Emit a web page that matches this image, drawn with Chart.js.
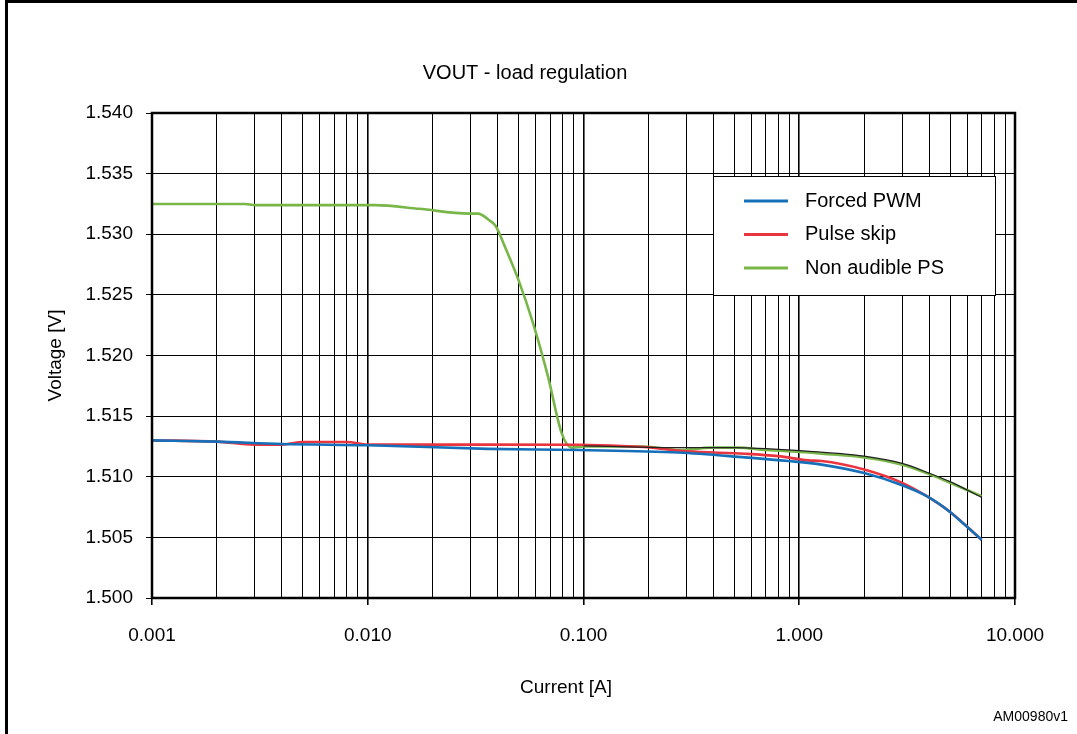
<!DOCTYPE html>
<html>
<head>
<meta charset="utf-8">
<script src="https://cdn.jsdelivr.net/npm/chart.js@4/dist/chart.umd.min.js"></script>
<style>
    body { margin: 0; background: #fff; }
    canvas { display: block; }
</style>
</head>
<body>
<canvas id="vout" width="1077" height="734"></canvas>
<script>
// Forced PWM
const stroomPwm = [0.001, 0.002, 0.004, 0.01, 0.036, 0.095, 0.275, 0.56, 0.89, 1.27, 2.0, 3.0, 3.9, 5.0, 5.8, 7.0];
const spanningPwm = [1.5130, 1.5129, 1.5127, 1.5126, 1.5123, 1.5122, 1.5120, 1.5116, 1.5113, 1.5110, 1.5103, 1.5093, 1.5084, 1.5071, 1.5061, 1.5048];

// Pulse skip
const stroomSkip = [0.001, 0.002, 0.003, 0.004, 0.005, 0.008, 0.01, 0.036, 0.095, 0.19, 0.30, 0.56, 0.8, 1.1, 1.27, 2.0, 3.0, 3.9, 5.0, 7.0];
const spanningSkip = [1.5130, 1.5129, 1.51265, 1.51265, 1.51287, 1.51287, 1.51265, 1.51265, 1.51264, 1.51245, 1.5121, 1.5119, 1.5117, 1.51135, 1.5113, 1.5106, 1.5095, 1.5084, 1.5071, 1.5048];

// Non audible PS
const stroomNonAudible = [0.001, 0.0027, 0.003, 0.0108, 0.0173, 0.0294, 0.0325, 0.0363, 0.0391, 0.0434, 0.0498, 0.0583, 0.0684, 0.0792, 0.0883, 0.1, 0.19, 0.28, 0.39, 0.52, 0.70, 1.1, 1.27, 2.0, 3.0, 3.9, 5.0, 7.0];
const spanningNonAudible = [1.5325, 1.5325, 1.5324, 1.5324, 1.5321, 1.5317, 1.5317, 1.5312, 1.5307, 1.5289, 1.5263, 1.5227, 1.5183, 1.5136, 1.5124, 1.5125, 1.5125, 1.5122, 1.5124, 1.5124, 1.5122, 1.5120, 1.5119, 1.5116, 1.5110, 1.5103, 1.5095, 1.5084];

// dunne zwarte lijn die onder de groene meeloopt
const stroomZwart = [0.1, 0.3, 0.5, 1.0, 2.0, 3.0, 4.0, 5.0, 7.0];
const spanningZwart = [1.51255, 1.5124, 1.5124, 1.51215, 1.5117, 1.5111, 1.5103, 1.5096, 1.5083];

const decaden = [0.001, 0.01, 0.1, 1];
const veelvouden = [1, 2, 3, 4, 5, 6, 7, 8, 9];
const yMin = 1.500;
const yMax = 1.540;
const yStap = 0.005;

const xRaster = decaden.flatMap(d => veelvouden.map(m => +(d * m).toPrecision(3))).concat([10]);
const isDecade = v => Math.abs(Math.log10(v) - Math.round(Math.log10(v))) < 1e-9;

const punten = (xs, ys) => xs.map((x, i) => ({ x: x, y: ys[i] }));

const FONT = "'Liberation Sans', Arial, sans-serif";

const extraTekst = {
    id: "extraTekst",
    beforeDraw(chart) {
        const ctx = chart.ctx;
        ctx.save();
        ctx.fillStyle = "#fff";
        ctx.fillRect(0, 0, chart.width, chart.height);
        ctx.restore();
    },
    afterDraw(chart) {
        const { ctx, chartArea: a } = chart;
        ctx.save();

        // kader rond plotgebied
        ctx.strokeStyle = "#000";
        ctx.lineWidth = 2.5;
        ctx.strokeRect(a.left, a.top, a.right - a.left, a.bottom - a.top);

        // buitenkader (boven en links)
        ctx.lineWidth = 3;
        ctx.beginPath();
        ctx.moveTo(6.5, chart.height);
        ctx.lineTo(6.5, 1.5);
        ctx.lineTo(chart.width, 1.5);
        ctx.stroke();

        ctx.fillStyle = "#000";
        ctx.textBaseline = "middle";
        ctx.textAlign = "center";
        ctx.font = "20px " + FONT;
        ctx.fillText("VOUT - load regulation", 525, 73);
        ctx.font = "19px " + FONT;
        ctx.fillText("Current [A]", 566, 688);
        ctx.textAlign = "right";
        ctx.font = "14px " + FONT;
        ctx.fillText("AM00980v1", 1068, 717);

        // legenda
        const lx = 713, ly = 176, lw = 282, lh = 119;
        ctx.fillStyle = "#fff";
        ctx.fillRect(lx, ly, lw, lh);
        ctx.lineWidth = 1;
        ctx.strokeStyle = "#000";
        ctx.strokeRect(lx + 0.5, ly + 0.5, lw, lh);
        ctx.textAlign = "left";
        ctx.font = "20px " + FONT;
        const items = chart.data.datasets.filter(ds => ds.label);
        items.forEach((ds, i) => {
            const y = 201 + i * 33.5;
            ctx.strokeStyle = ds.borderColor;
            ctx.lineWidth = 3;
            ctx.beginPath();
            ctx.moveTo(744, y);
            ctx.lineTo(788, y);
            ctx.stroke();
            ctx.fillStyle = "#000";
            ctx.fillText(ds.label, 805, y);
        });

        ctx.restore();
    }
};

function tekenGrafiek() {
    const canvas = document.getElementById("vout");

    const lijn = (label, xs, ys, kleur, dikte) => ({
        label: label,
        data: punten(xs, ys),
        borderColor: kleur,
        backgroundColor: kleur,
        borderWidth: dikte,
        pointRadius: 0,
        cubicInterpolationMode: "monotone",
        fill: false,
    });

    new Chart(canvas, {
        type: "line",
        data: {
            datasets: [
                lijn("", stroomZwart, spanningZwart, "#222", 1.2),
                lijn("Forced PWM", stroomPwm, spanningPwm, "#1670b9", 2.6),
                lijn("Pulse skip", stroomSkip, spanningSkip, "#e8353f", 2.6),
                lijn("Non audible PS", stroomNonAudible, spanningNonAudible, "#78b648", 2.6),
            ],
        },
        options: {
            responsive: false,
            animation: false,
            layout: { padding: { left: 0, right: 62, top: 113, bottom: 0 } },
            plugins: {
                legend: { display: false },
                title: { display: false },
                tooltip: { enabled: false },
            },
            scales: {
                x: {
                    type: "logarithmic",
                    min: 0.001,
                    max: 10,
                    afterBuildTicks: scale => {
                        scale.ticks = xRaster.map(v => ({ value: v }));
                    },
                    afterFit: scale => { scale.height = 136; },
                    ticks: {
                        autoSkip: false,
                        maxRotation: 0,
                        padding: 19,
                        color: "#000",
                        font: { family: FONT, size: 19 },
                        callback: v => isDecade(v) ? v.toFixed(3) : "",
                    },
                    grid: {
                        color: "#000",
                        lineWidth: ctx => (ctx.tick && isDecade(ctx.tick.value)) ? 1.6 : 1,
                        tickLength: 7,
                        tickColor: ctx => (ctx.tick && isDecade(ctx.tick.value)) ? "#000" : "rgba(0,0,0,0)",
                    },
                    border: { display: false },
                    title: { display: false },
                },
                y: {
                    min: yMin,
                    max: yMax,
                    afterFit: scale => { scale.width = 152; },
                    ticks: {
                        stepSize: yStap,
                        padding: 13,
                        color: "#000",
                        font: { family: FONT, size: 19 },
                        callback: v => v.toFixed(3),
                    },
                    grid: {
                        color: "#000",
                        lineWidth: 1,
                        tickLength: 6,
                    },
                    border: { display: false },
                    title: {
                        display: true,
                        text: "Voltage [V]",
                        color: "#000",
                        font: { family: FONT, size: 19 },
                        padding: { top: 44, bottom: 0 },
                    },
                },
            },
        },
        plugins: [extraTekst],
    });
}

window.addEventListener("load", tekenGrafiek);
</script>
</body>
</html>
